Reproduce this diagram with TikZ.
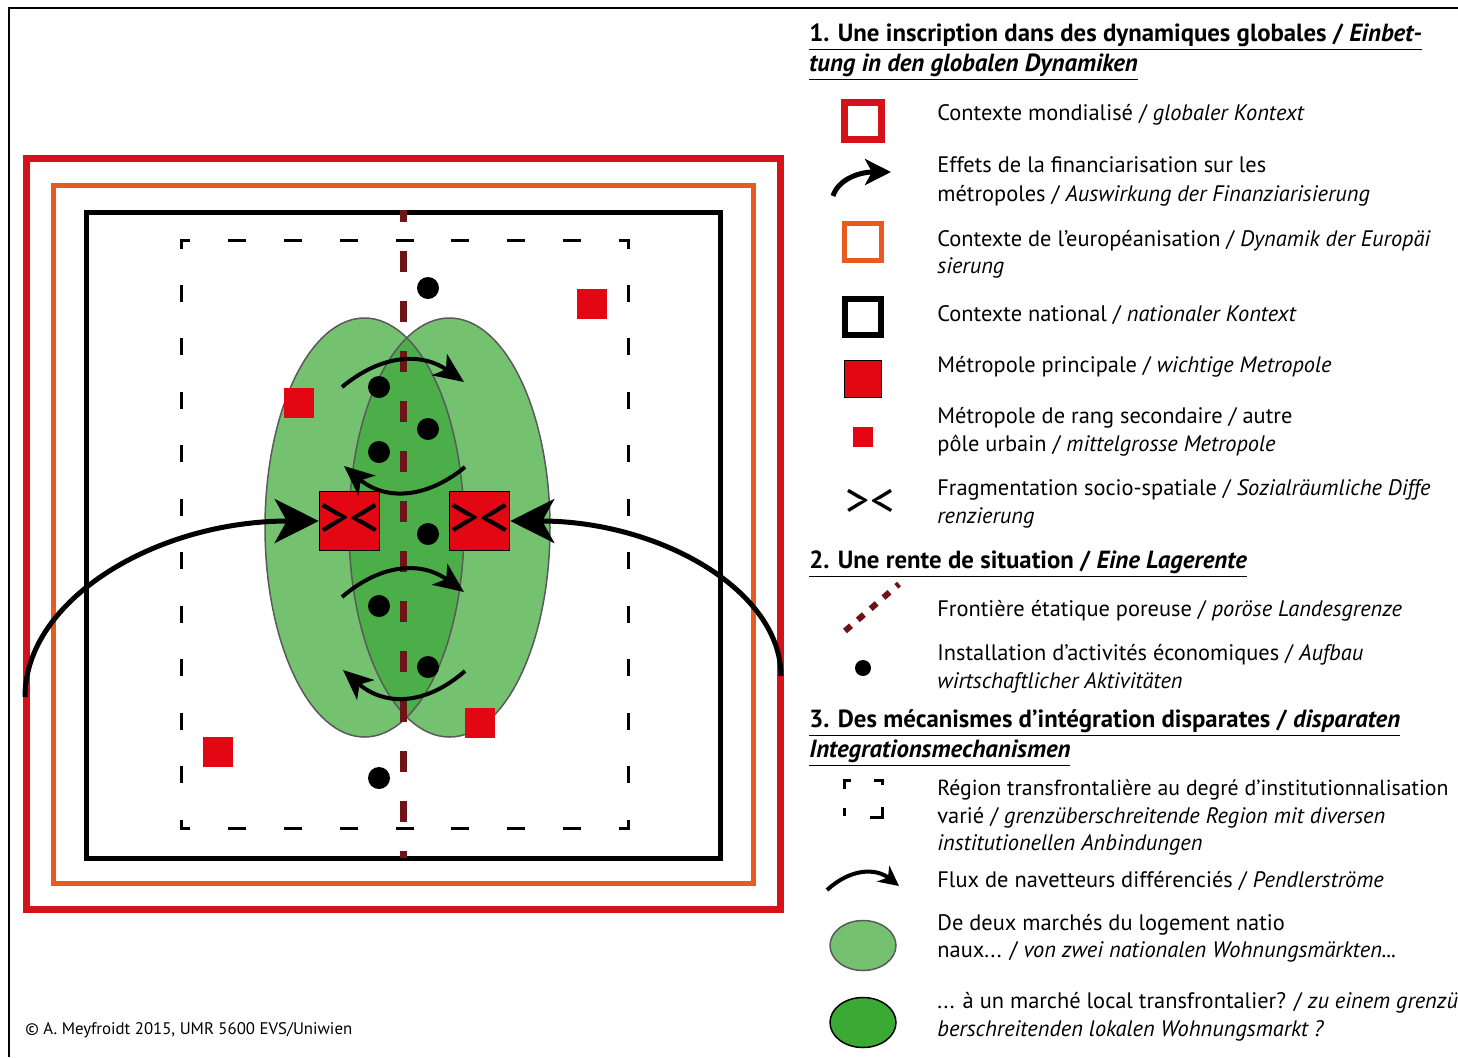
\documentclass[tikz,border=0pt]{standalone}
\usepackage{fontspec}
\setmainfont{PT Sans}
\usetikzlibrary{arrows.meta}
\definecolor{cred}{HTML}{D5121A}
\definecolor{corange}{HTML}{E95A1F}
\definecolor{metred}{HTML}{E30613}
\definecolor{cborder}{HTML}{6E1418}
\definecolor{lgreen}{HTML}{74C270}
\definecolor{dgreen}{HTML}{4CAE48}
\definecolor{dgreenleg}{HTML}{3AAA35}
\definecolor{ellgray}{HTML}{5A5A5A}
\tikzset{
  metro/.style={draw=black, line width=0.5pt, fill=metred, minimum size=29.5pt, inner sep=0pt, font=\fontsize{30}{30}\selectfont},
  metrosmall/.style={fill=metred, minimum size=15pt, inner sep=0pt},
  actdot/.style={circle, fill=black, minimum size=11pt, inner sep=0pt},
  commflow/.style={line width=2pt, -{Stealth[length=15pt,width=13pt,inset=4pt]}},
  finarrow/.style={line width=2.5pt, -{Stealth[length=22pt,width=22pt,inset=6pt]}},
  regdash/.style={line width=1.5pt, line cap=rect},
  ellout/.style={draw=ellgray, line width=0.75pt},
  legtext/.style={anchor=base west, inner sep=0pt, font=\fontsize{11.2}{13}\selectfont},
  headtext/.style={anchor=base west, inner sep=0pt, font=\fontsize{12.4}{14}\selectfont\bfseries},
}
\begin{document}
\begin{tikzpicture}[x=0.5pt,y=-0.5pt]
\useasboundingbox (0,0) rectangle (1458,1057);
\draw[line width=1pt] (9,1057) -- (9,8) -- (1458,8);

% frames
\draw[cred, line width=3.5pt] (26,158) rectangle (780,909);
\draw[corange, line width=2.5pt] (53,185.5) rectangle (753,883);
\draw[black, line width=2.5pt] (86,212.5) rectangle (720,858.5);

% cross-border region (dashed)
\draw[regdash, dash pattern=on 7.5pt off 20.44pt, dash phase=3.75pt] (181,240) -- (628,240);
\draw[regdash, dash pattern=on 7.5pt off 20.44pt, dash phase=3.75pt] (181,828) -- (628,828);
\draw[regdash, dash pattern=on 7pt off 19.73pt, dash phase=3.5pt] (181,240) -- (181,828);
\draw[regdash, dash pattern=on 7pt off 19.73pt, dash phase=3.5pt] (628,240) -- (628,828);

% housing markets
\fill[lgreen] (364.5,527.5) ellipse [x radius=99.5, y radius=209.5];
\fill[lgreen] (449.5,527.5) ellipse [x radius=100.5, y radius=209.5];
\begin{scope}
  \clip (364.5,527.5) ellipse [x radius=99.5, y radius=209.5];
  \fill[dgreen] (449.5,527.5) ellipse [x radius=100.5, y radius=209.5];
\end{scope}
\draw[ellout] (364.5,527.5) ellipse [x radius=99.5, y radius=209.5];
\draw[ellout] (449.5,527.5) ellipse [x radius=100.5, y radius=209.5];

% border
\coordinate (bt) at (403,210);
\coordinate (bb) at (403,858);
\draw[cborder, line width=3.5pt, dash pattern=on 10.5pt off 14.5pt, dash phase=4.5pt] (bt) -- (bb);

% secondary metropoles
\node[metrosmall] (s1) at (298.5,402.5) {};
\node[metrosmall] (s2) at (592,303.5) {};
\node[metrosmall] (s3) at (218,752) {};
\node[metrosmall] (s4) at (479.5,723) {};

% economic activities
\node[actdot] (d1) at (428,288) {};
\node[actdot] (d2) at (379,387) {};
\node[actdot] (d3) at (428,429) {};
\node[actdot] (d4) at (379,452) {};
\node[actdot] (d5) at (428,534) {};
\node[actdot] (d6) at (379,606) {};
\node[actdot] (d7) at (428,667) {};
\node[actdot] (d8) at (379,778) {};

% main metropoles
\node[metro] (mL) at (349.5,521) {><};
\node[metro] (mR) at (479.5,521) {><};

% commuter flows
\coordinate (c1a) at (342,387); \coordinate (c1b) at (464,382);
\coordinate (c2a) at (465,467); \coordinate (c2b) at (344,466);
\coordinate (c3a) at (342,597); \coordinate (c3b) at (464,592);
\coordinate (c4a) at (465,671); \coordinate (c4b) at (343,670);
\draw[commflow] (c1a) .. controls (383,353) and (423,353) .. (c1b);
\draw[commflow] (c2a) .. controls (425,500) and (384,500) .. (c2b);
\draw[commflow] (c3a) .. controls (383,562) and (423,562) .. (c3b);
\draw[commflow] (c4a) .. controls (425,706) and (384,706) .. (c4b);

% financialisation
\coordinate (fL) at (25,697);
\coordinate (fR) at (781,676);
\draw[finarrow] (fL) .. controls (25,599) and (157,521) .. (mL.west);
\draw[finarrow] (fR) .. controls (781,590) and (659,521) .. (mR.east);

% copyright
\node[anchor=base west, inner sep=0pt, font=\fontsize{8.4}{9}\selectfont] (copy) at (25,1034) {© A. Meyfroidt 2015, UMR 5600 EVS/Uniwien};

% ===== legend =====
\node[headtext] (h1a) at (809,41) {\underline{1. Une inscription dans des dynamiques globales / \textit{Einbet-}}};
\node[headtext] (h1b) at (809,71) {\underline{\textit{tung in den globalen Dynamiken}}};

\node[draw=cred, line width=3.5pt, minimum size=18.5pt, inner sep=0pt] (lg1) at (863,121) {};
\node[legtext] (t1) at (937,120) {Contexte mondialisé / \textit{globaler Kontext}};

\coordinate (lf1) at (833,196); \coordinate (lf2) at (891,172);
\draw[line width=2.5pt, -{Stealth[length=13pt,width=13pt,inset=3.5pt]}] (lf1) .. controls (838,180) and (858,172) .. (lf2);
\node[legtext] (t2a) at (937,172) {Effets de la financiarisation sur les};
\node[legtext] (t2b) at (937,201) {métropoles / \textit{Auswirkung der Finanziarisierung}};

\node[draw=corange, line width=2.5pt, minimum size=18.5pt, inner sep=0pt] (lg3) at (863,241.5) {};
\node[legtext] (t3a) at (937,246) {Contexte de l’européanisation / \textit{Dynamik der Europäi}};
\node[legtext] (t3b) at (937,273) {\textit{sierung}};

\node[draw=black, line width=3pt, minimum size=18pt, inner sep=0pt] (lg4) at (863,317) {};
\node[legtext] (t4) at (937,321) {Contexte national / \textit{nationaler Kontext}};

\node[draw=black, line width=0.5pt, fill=metred, minimum size=18.5pt, inner sep=0pt] (lg5) at (863,378.5) {};
\node[legtext] (t5) at (937,372) {Métropole principale / \textit{wichtige Metropole}};

\node[metrosmall, minimum size=10pt] (lg6) at (863,437) {};
\node[legtext] (t6a) at (937,423) {Métropole de rang secondaire / autre};
\node[legtext] (t6b) at (937,451) {pôle urbain / \textit{mittelgrosse Metropole}};

\node[inner sep=0pt, font=\fontsize{24}{24}\selectfont] (lg7) at (870,503) {><};
\node[legtext] (t7a) at (937,495) {Fragmentation socio-spatiale / \textit{Sozialräumliche Diffe}};
\node[legtext] (t7b) at (937,523) {\textit{renzierung}};

\node[headtext] (h2) at (809,568) {\underline{2. Une rente de situation / \textit{Eine Lagerente}}};

\coordinate (lb1) at (845,631); \coordinate (lb2) at (899,584);
\draw[cborder, line width=3pt, dash pattern=on 4pt off 4.5pt] (lb1) -- (lb2);
\node[legtext] (t8) at (937,616) {Frontière étatique poreuse / \textit{poröse Landesgrenze}};

\node[actdot, minimum size=8pt] (lg9) at (863,668) {};
\node[legtext] (t9a) at (937,660) {Installation d’activités économiques / \textit{Aufbau}};
\node[legtext] (t9b) at (937,688) {\textit{wirtschaftlicher Aktivitäten}};

\node[headtext] (h3a) at (809,727) {\underline{3. Des mécanismes d’intégration disparates / \textit{disparaten}}};
\node[headtext] (h3b) at (809,757) {\underline{\textit{Integrationsmechanismen}}};

\draw[line width=1.5pt] (844,789) -- (844,780) -- (851,780);
\draw[line width=1.5pt] (874,780) -- (882,780) -- (882,785);
\draw[line width=1.5pt] (844,808) -- (844,816);
\draw[line width=1.5pt] (870,817) -- (882,817) -- (882,807);
\node[legtext, font=\fontsize{10.9}{13}\selectfont] (t10a) at (937,795) {Région transfrontalière au degré d’institutionnalisation};
\node[legtext] (t10b) at (937,823) {varié / \textit{grenzüberschreitende Region mit diversen}};
\node[legtext] (t10c) at (937,850) {\textit{institutionellen Anbindungen}};

\coordinate (lc1) at (827,890); \coordinate (lc2) at (899,886);
\draw[line width=2pt, -{Stealth[length=10pt,width=10pt,inset=3pt]}] (lc1) .. controls (851,868) and (876,868) .. (lc2);
\node[legtext] (t11) at (937,887) {Flux de navetteurs différenciés / \textit{Pendlerströme}};

\fill[lgreen, draw=ellgray, line width=0.75pt] (863,945.5) ellipse [x radius=33, y radius=25];
\node[legtext] (t12a) at (937,930) {De deux marchés du logement natio};
\node[legtext] (t12b) at (937,957) {naux... / \textit{von zwei nationalen Wohnungsmärkten...}};

\fill[dgreenleg, draw=black, line width=0.75pt] (863,1022.5) ellipse [x radius=33, y radius=25];
\node[legtext] (t13a) at (937,1008) {... à un marché local transfrontalier? / \textit{zu einem grenzü}};
\node[legtext] (t13b) at (937,1036) {\textit{berschreitenden lokalen Wohnungsmarkt ?}};
\end{tikzpicture}
\end{document}
